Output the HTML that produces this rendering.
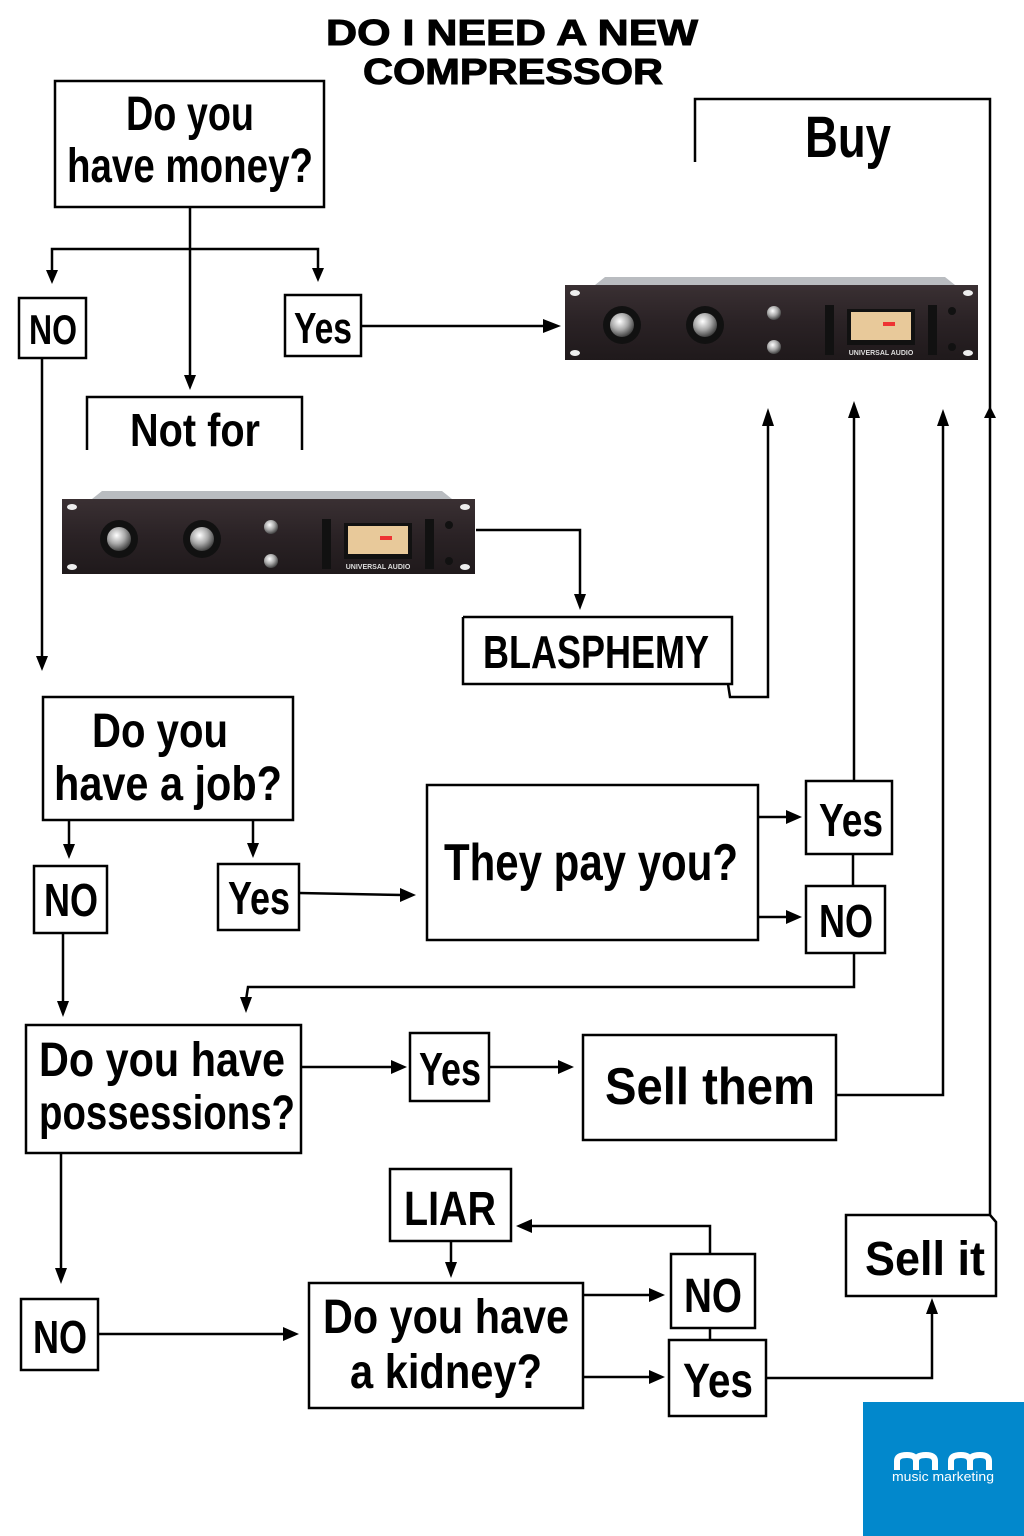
<!DOCTYPE html>
<html><head><meta charset="utf-8"><style>
html,body{margin:0;padding:0;background:#fff}
svg{display:block}
text{font-family:"Liberation Sans Narrow","Liberation Sans",sans-serif;font-weight:bold;fill:#000}
</style></head><body>
<svg width="1024" height="1536" viewBox="0 0 1024 1536" xmlns="http://www.w3.org/2000/svg">
<defs>
<linearGradient id="face" x1="0" y1="0" x2="0" y2="1">
<stop offset="0" stop-color="#3a3033"/><stop offset="0.5" stop-color="#2a2225"/><stop offset="1" stop-color="#1f191b"/></linearGradient>
<radialGradient id="knob" cx="0.4" cy="0.35" r="0.7"><stop offset="0" stop-color="#fff"/><stop offset="0.5" stop-color="#aaa"/><stop offset="1" stop-color="#333"/></radialGradient>
<g id="comp">
<polygon points="30,8 40,0 380,0 390,8" fill="#b9bcc0"/>
<rect x="0" y="8" width="413" height="75" fill="url(#face)"/>
<ellipse cx="10" cy="16" rx="5" ry="3" fill="#eee"/><ellipse cx="403" cy="16" rx="5" ry="3" fill="#eee"/>
<ellipse cx="10" cy="76" rx="5" ry="3" fill="#eee"/><ellipse cx="403" cy="76" rx="5" ry="3" fill="#eee"/>
<circle cx="57" cy="48" r="19" fill="#111"/><circle cx="57" cy="48" r="12" fill="url(#knob)"/>
<circle cx="140" cy="48" r="19" fill="#111"/><circle cx="140" cy="48" r="12" fill="url(#knob)"/>
<circle cx="209" cy="36" r="7" fill="url(#knob)"/><circle cx="209" cy="70" r="7" fill="url(#knob)"/>
<rect x="260" y="28" width="9" height="50" fill="#111"/>
<rect x="282" y="32" width="68" height="36" fill="#111"/>
<rect x="286" y="35" width="60" height="28" fill="#e8c99a"/>
<rect x="318" y="45" width="12" height="4" fill="#e33"/>
<rect x="363" y="28" width="9" height="50" fill="#111"/>
<circle cx="387" cy="34" r="4" fill="#111"/><circle cx="387" cy="70" r="4" fill="#111"/>
<text x="316" y="78" font-size="7" style="fill:#ddd;font-family:'Liberation Sans'" text-anchor="middle">UNIVERSAL AUDIO</text>
</g>
</defs>

<text x="512" y="45" font-size="36" text-anchor="middle" textLength="372" lengthAdjust="spacingAndGlyphs" style="font-family:'Liberation Sans';font-weight:900;stroke:#000;stroke-width:1">DO I NEED A NEW</text>
<text x="513" y="84" font-size="36" text-anchor="middle" textLength="300" lengthAdjust="spacingAndGlyphs" style="font-family:'Liberation Sans';font-weight:900;stroke:#000;stroke-width:1">COMPRESSOR</text>

<g fill="none" stroke="#000" stroke-width="2.5">
<rect x="55" y="81" width="269" height="126"/>
<polyline points="695,162 695,99 990,99 990,1216"/>
<line x1="190" y1="207" x2="190" y2="378"/>
<polyline points="52,272 52,249 318,249 318,270"/>
<rect x="19" y="298" width="67" height="60"/>
<rect x="285" y="295" width="76" height="61"/>
<line x1="361" y1="326" x2="545" y2="326"/>
<polyline points="87,450 87,397 302,397 302,450"/>
<polyline points="476,530 580,530 580,596"/>
<polyline points="463,617 732,617 732,684 463,684 463,617"/>
<polyline points="728,684 730,697 768,697 768,424"/>
<line x1="42" y1="358" x2="42" y2="658"/>
<rect x="43" y="697" width="250" height="123"/>
<line x1="69" y1="820" x2="69" y2="846"/>
<line x1="253" y1="820" x2="253" y2="845"/>
<rect x="34" y="866" width="73" height="67"/>
<rect x="218" y="864" width="81" height="66"/>
<line x1="299" y1="893" x2="402" y2="895"/>
<rect x="427" y="785" width="331" height="155"/>
<line x1="758" y1="817" x2="788" y2="817"/>
<line x1="758" y1="917" x2="788" y2="917"/>
<rect x="806" y="781" width="86" height="73"/>
<rect x="806" y="886" width="79" height="67"/>
<line x1="854" y1="781" x2="854" y2="416"/>
<line x1="853" y1="854" x2="853" y2="886"/>
<polyline points="854,953 854,987 248,987 246,1000"/>
<line x1="63" y1="933" x2="63" y2="1003"/>
<rect x="26" y="1025" width="275" height="128"/>
<line x1="301" y1="1067" x2="393" y2="1067"/>
<rect x="410" y="1033" width="79" height="68"/>
<line x1="489" y1="1067" x2="560" y2="1067"/>
<rect x="583" y="1035" width="253" height="105"/>
<polyline points="836,1095 943,1095 943,424"/>
<line x1="61" y1="1153" x2="61" y2="1270"/>
<rect x="21" y="1299" width="77" height="71"/>
<line x1="98" y1="1334" x2="285" y2="1334"/>
<rect x="390" y="1169" width="121" height="72"/>
<line x1="451" y1="1241" x2="451" y2="1264"/>
<rect x="309" y="1283" width="274" height="125"/>
<line x1="583" y1="1295" x2="651" y2="1295"/>
<line x1="583" y1="1377" x2="651" y2="1377"/>
<rect x="671" y="1254" width="84" height="74"/>
<polyline points="710,1254 710,1226 530,1226"/>
<line x1="710" y1="1328" x2="710" y2="1340"/>
<rect x="669" y="1340" width="97" height="76"/>
<polyline points="766,1378 932,1378 932,1312"/>
<polyline points="990,1215 846,1215 846,1296 996,1296 996,1222 990,1215"/>
</g>

<g fill="#000">
<polygon points="46,270 58,270 52,284"/>
<polygon points="312,268 324,268 318,282"/>
<polygon points="184,375 196,375 190,390"/>
<polygon points="543,319 543,333 561,326"/>
<polygon points="574,594 586,594 580,610"/>
<polygon points="762,426 774,426 768,408"/>
<polygon points="36,656 48,656 42,671"/>
<polygon points="63,844 75,844 69,859"/>
<polygon points="247,843 259,843 253,858"/>
<polygon points="400,888 400,902 416,895"/>
<polygon points="786,810 786,824 802,817"/>
<polygon points="786,910 786,924 802,917"/>
<polygon points="848,418 860,418 854,401"/>
<polygon points="240,997 252,997 246,1013"/>
<polygon points="57,1001 69,1001 63,1017"/>
<polygon points="391,1060 391,1074 407,1067"/>
<polygon points="558,1060 558,1074 574,1067"/>
<polygon points="937,426 949,426 943,409"/>
<polygon points="984,418 996,418 990,406"/>
<polygon points="55,1268 67,1268 61,1284"/>
<polygon points="283,1327 283,1341 299,1334"/>
<polygon points="445,1262 457,1262 451,1278"/>
<polygon points="649,1288 649,1302 665,1295"/>
<polygon points="649,1370 649,1384 665,1377"/>
<polygon points="532,1219 532,1233 516,1226"/>
<polygon points="926,1314 938,1314 932,1298"/>
</g>

<use href="#comp" transform="translate(565,277)"/>
<use href="#comp" transform="translate(62,491)"/>

<g font-size="48" text-anchor="middle">
<text x="190" y="130" textLength="128" lengthAdjust="spacingAndGlyphs">Do you</text>
<text x="190" y="182" textLength="246" lengthAdjust="spacingAndGlyphs">have money?</text>
<text x="848" y="157" font-size="58" textLength="86" lengthAdjust="spacingAndGlyphs">Buy</text>
<text x="53" y="344" font-size="42" textLength="48" lengthAdjust="spacingAndGlyphs">NO</text>
<text x="323" y="343" font-size="44" textLength="58" lengthAdjust="spacingAndGlyphs">Yes</text>
<text x="195" y="446" font-size="46" textLength="130" lengthAdjust="spacingAndGlyphs">Not for</text>
<text x="596" y="668" font-size="46" textLength="226" lengthAdjust="spacingAndGlyphs">BLASPHEMY</text>
<text x="160" y="747" textLength="136" lengthAdjust="spacingAndGlyphs">Do you</text>
<text x="168" y="800" textLength="228" lengthAdjust="spacingAndGlyphs">have a job?</text>
<text x="71" y="916" font-size="46" textLength="54" lengthAdjust="spacingAndGlyphs">NO</text>
<text x="259" y="914" font-size="46" textLength="62" lengthAdjust="spacingAndGlyphs">Yes</text>
<text x="591" y="880" font-size="52" textLength="294" lengthAdjust="spacingAndGlyphs">They pay you?</text>
<text x="851" y="836" font-size="46" textLength="64" lengthAdjust="spacingAndGlyphs">Yes</text>
<text x="846" y="937" font-size="46" textLength="54" lengthAdjust="spacingAndGlyphs">NO</text>
<text x="162" y="1076" textLength="246" lengthAdjust="spacingAndGlyphs">Do you have</text>
<text x="167" y="1129" textLength="256" lengthAdjust="spacingAndGlyphs">possessions?</text>
<text x="450" y="1085" font-size="46" textLength="62" lengthAdjust="spacingAndGlyphs">Yes</text>
<text x="710" y="1104" font-size="52" textLength="210" lengthAdjust="spacingAndGlyphs">Sell  them</text>
<text x="450" y="1225" font-size="48" textLength="92" lengthAdjust="spacingAndGlyphs">LIAR</text>
<text x="60" y="1353" font-size="46" textLength="54" lengthAdjust="spacingAndGlyphs">NO</text>
<text x="446" y="1333" textLength="246" lengthAdjust="spacingAndGlyphs">Do you have</text>
<text x="446" y="1388" textLength="192" lengthAdjust="spacingAndGlyphs">a kidney?</text>
<text x="713" y="1312" font-size="48" textLength="58" lengthAdjust="spacingAndGlyphs">NO</text>
<text x="718" y="1397" font-size="48" textLength="70" lengthAdjust="spacingAndGlyphs">Yes</text>
<text x="925" y="1275" font-size="48" textLength="120" lengthAdjust="spacingAndGlyphs">Sell it</text>
</g>

<rect x="863" y="1402" width="161" height="134" fill="#0288cc"/>
<g fill="none" stroke="#fff" stroke-width="6">
<path d="M897,1470 V1461 Q897,1455 907,1455 Q916,1455 916,1461 V1470 M916,1461 Q916,1455 926,1455 Q935,1455 935,1461 V1470"/>
<path d="M951,1470 V1461 Q951,1455 961,1455 Q970,1455 970,1461 V1470 M970,1461 Q970,1455 980,1455 Q989,1455 989,1461 V1470"/>
</g>
<text x="943" y="1481" font-size="13" text-anchor="middle" style="fill:#fff;font-weight:normal;font-family:'Liberation Sans'" textLength="102" lengthAdjust="spacingAndGlyphs">music marketing</text>
</svg>
</body></html>
